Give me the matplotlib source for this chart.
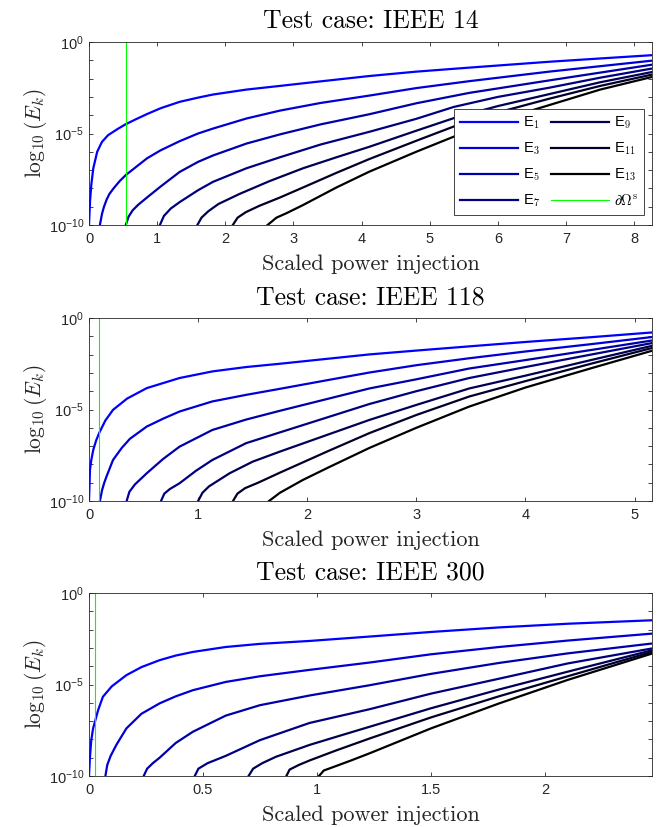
import numpy as np
import matplotlib
matplotlib.use('Agg')
from matplotlib import pyplot as plt

# valori (x = putere scalata, y = log10(E_k))
labels = ['E$_{1}$', 'E$_{3}$', 'E$_{5}$', 'E$_{7}$', 'E$_{9}$', 'E$_{11}$', 'E$_{13}$']
titluri = ['Test case: IEEE 14', 'Test case: IEEE 118', 'Test case: IEEE 300']
xmax = [8.26, 5.16, 2.47]
frontiera = [0.54, 0.095, 0.028]   # linia verde dOmega^s
xticks = [[0, 1, 2, 3, 4, 5, 6, 7, 8], [0, 1, 2, 3, 4, 5], [0, 0.5, 1, 1.5, 2]]
xticklabels = [['0', '1', '2', '3', '4', '5', '6', '7', '8'],
               ['0', '1', '2', '3', '4', '5'],
               ['0', '0.5', '1', '1.5', '2']]

# IEEE 14
ieee14_x = [
    [0, 0.015, 0.034, 0.063, 0.12, 0.19, 0.28, 0.43, 0.54, 0.70, 0.85, 1.05, 1.33, 1.6, 1.82,
     2.31, 2.80, 3.4, 4.11, 4.8, 5.58, 6.75, 7.5, 8.26],
    [0.16, 0.19, 0.22, 0.26, 0.30, 0.36, 0.45, 0.54, 0.70, 0.85, 1.05, 1.33, 1.6, 1.82, 2.31,
     2.80, 3.4, 4.11, 4.8, 5.58, 6.75, 8.26],
    [0.54, 0.58, 0.64, 0.72, 0.85, 1.05, 1.33, 1.6, 1.82, 2.31, 2.80, 3.4, 4.11, 4.8, 5.58,
     6.75, 8.26],
    [1.04, 1.1, 1.2, 1.33, 1.6, 1.82, 2.31, 2.80, 3.4, 4.11, 4.8, 5.35, 6.0, 6.75, 7.5, 8.26],
    [1.59, 1.65, 1.75, 1.9, 2.21, 2.65, 3.14, 3.63, 4.11, 4.8, 5.4, 6.0, 6.75, 7.5, 8.26],
    [2.11, 2.18, 2.3, 2.5, 2.8, 3.14, 3.63, 4.11, 4.8, 5.4, 6.0, 6.75, 7.5, 8.26],
    [2.62, 2.75, 2.9, 3.14, 3.63, 4.11, 4.8, 5.4, 6.0, 6.75, 7.5, 8.26],
]
ieee14_logE = [
    [-10, -8.7, -7.8, -6.9, -6.0, -5.46, -5.09, -4.73, -4.49, -4.2, -3.94, -3.62, -3.27, -3.04,
     -2.87, -2.60, -2.40, -2.15, -1.86, -1.62, -1.40, -1.08, -0.9, -0.72],
    [-10, -9.4, -9.0, -8.6, -8.3, -8.0, -7.6, -7.27, -6.8, -6.36, -5.92, -5.42, -5.0, -4.73,
     -4.18, -3.75, -3.33, -2.93, -2.52, -2.14, -1.62, -1.02],
    [-10, -9.55, -9.2, -8.9, -8.5, -7.9, -7.1, -6.55, -6.2, -5.55, -5.05, -4.5, -3.95, -3.35,
     -2.78, -2.1, -1.24],
    [-10, -9.5, -9.1, -8.75, -8.1, -7.64, -6.9, -6.3, -5.6, -4.91, -4.2, -3.55, -3.0, -2.5,
     -1.95, -1.45],
    [-10, -9.6, -9.25, -8.85, -8.3, -7.6, -6.9, -6.3, -5.73, -4.85, -4.1, -3.5, -2.85, -2.2, -1.64],
    [-10, -9.6, -9.3, -8.95, -8.5, -7.95, -7.15, -6.4, -5.4, -4.55, -3.85, -3.1, -2.4, -1.78],
    [-10, -9.6, -9.35, -8.91, -7.95, -7.09, -6.0, -5.1, -4.3, -3.45, -2.6, -1.91],
]

# IEEE 118
ieee118_x = [
    [0, 0.009, 0.02, 0.039, 0.065, 0.095, 0.15, 0.22, 0.35, 0.53, 0.83, 1.13, 1.44, 1.75, 2.2,
     2.57, 3.0, 3.485, 4.0, 4.6, 5.16],
    [0.10, 0.12, 0.14, 0.16, 0.22, 0.3, 0.375, 0.53, 0.68, 0.83, 1.13, 1.44, 1.75, 2.2, 2.57,
     3.0, 3.485, 4.0, 4.6, 5.16],
    [0.345, 0.37, 0.42, 0.53, 0.68, 0.83, 1.13, 1.44, 1.75, 2.2, 2.57, 3.0, 3.485, 4.0, 4.6, 5.16],
    [0.66, 0.69, 0.74, 0.83, 0.98, 1.13, 1.44, 1.75, 2.2, 2.57, 3.0, 3.485, 4.0, 4.6, 5.16],
    [1.0, 1.04, 1.1, 1.29, 1.5, 1.75, 2.2, 2.57, 3.0, 3.485, 4.0, 4.6, 5.16],
    [1.32, 1.36, 1.43, 1.55, 1.75, 2.2, 2.57, 3.0, 3.485, 4.0, 4.6, 5.16],
    [1.65, 1.75, 1.96, 2.2, 2.57, 3.0, 3.485, 4.0, 4.6, 5.16],
]
ieee118_logE = [
    [-10, -8.3, -7.8, -7.21, -6.7, -6.26, -5.6, -5.02, -4.4, -3.83, -3.28, -2.92, -2.68, -2.50,
     -2.22, -1.99, -1.78, -1.55, -1.31, -1.05, -0.79],
    [-10, -9.4, -9.0, -8.67, -7.76, -7.1, -6.6, -5.93, -5.5, -5.11, -4.56, -4.2, -3.87, -3.38,
     -2.98, -2.58, -2.2, -1.83, -1.43, -1.04],
    [-10, -9.5, -9.1, -8.48, -7.7, -7.03, -6.12, -5.55, -5.07, -4.4, -3.85, -3.35, -2.76, -2.3,
     -1.75, -1.23],
    [-10, -9.6, -9.35, -9.03, -8.35, -7.76, -6.84, -6.25, -5.4, -4.7, -4.0, -3.28, -2.68, -2.0, -1.37],
    [-10, -9.55, -9.2, -8.48, -7.85, -7.30, -6.35, -5.57, -4.75, -3.85, -3.15, -2.3, -1.52],
    [-10, -9.6, -9.3, -9.0, -8.45, -7.25, -6.29, -5.3, -4.29, -3.45, -2.5, -1.64],
    [-10, -9.55, -8.85, -8.15, -7.1, -6.0, -4.84, -3.8, -2.75, -1.79],
]

# IEEE 300
ieee300_x = [
    [0, 0.004, 0.01, 0.018, 0.028, 0.04, 0.061, 0.1, 0.164, 0.23, 0.31, 0.38, 0.456, 0.6, 0.75,
     0.968, 1.231, 1.5, 1.8, 2.1, 2.47],
    [0.072, 0.08, 0.095, 0.12, 0.164, 0.23, 0.31, 0.38, 0.456, 0.6, 0.75, 0.968, 1.231, 1.5,
     1.8, 2.1, 2.47],
    [0.24, 0.255, 0.28, 0.31, 0.38, 0.456, 0.6, 0.75, 0.968, 1.231, 1.5, 1.8, 2.1, 2.47],
    [0.464, 0.48, 0.52, 0.6, 0.75, 0.968, 1.231, 1.5, 1.8, 2.1, 2.47],
    [0.70, 0.72, 0.76, 0.82, 0.968, 1.1, 1.231, 1.5, 1.8, 2.1, 2.47],
    [0.866, 0.88, 0.92, 0.968, 1.085, 1.231, 1.5, 1.8, 2.1, 2.47],
    [1.009, 1.03, 1.085, 1.15, 1.231, 1.5, 1.8, 2.1, 2.47],
]
ieee300_logE = [
    [-10, -9.0, -8.04, -7.4, -6.95, -6.4, -5.67, -5.1, -4.49, -4.05, -3.67, -3.42, -3.22, -2.95,
     -2.78, -2.62, -2.38, -2.13, -1.88, -1.68, -1.49],
    [-10, -9.4, -8.9, -8.3, -7.4, -6.6, -6.03, -5.65, -5.31, -4.86, -4.55, -4.2, -3.8, -3.35,
     -2.95, -2.6, -2.22],
    [-10, -9.6, -9.3, -9.0, -8.2, -7.58, -6.7, -6.13, -5.6, -5.04, -4.42, -3.82, -3.3, -2.76],
    [-10, -9.6, -9.3, -8.9, -8.04, -7.1, -6.35, -5.5, -4.68, -3.85, -3.03],
    [-10, -9.6, -9.3, -8.95, -8.3, -7.8, -7.31, -6.3, -5.27, -4.3, -3.13],
    [-10, -9.65, -9.4, -9.15, -8.6, -7.95, -6.8, -5.64, -4.55, -3.22],
    [-10, -9.7, -9.45, -9.15, -8.76, -7.4, -6.03, -4.75, -3.31],
]

toate_x = [ieee14_x, ieee118_x, ieee300_x]
toate_y = [ieee14_logE, ieee118_logE, ieee300_logE]

plt.rcParams['mathtext.fontset'] = 'cm'
plt.rcParams['axes.formatter.use_mathtext'] = True
gri = (0.15, 0.15, 0.15)
font_tick = 'Liberation Sans'

fig = plt.figure(figsize=(6.64, 8.27), dpi=100)
bottoms = [1 - 225/827, 1 - 501/827, 1 - 776/827]
culori = [(0, 0, 1 - i/6) for i in range(7)]

for p in range(3):
    ax = fig.add_axes([89/664, bottoms[p], 563/664, 183/827])
    for i in range(7):
        ax.plot(toate_x[p][i], 10.0 ** np.array(toate_y[p][i]), color=culori[i],
                lw=1.6, label=labels[i], solid_joinstyle='round')
    ax.plot([frontiera[p], frontiera[p]], [1e-10, 1], color=(0, 1, 0), lw=0.8,
            label=r'$\partial\Omega^{\rm s}$')
    ax.set_yscale('log')
    ax.set_ylim(1e-10, 1)
    ax.set_xlim(0, xmax[p])
    ax.set_yticks([1e-10, 1e-5, 1])
    ax.set_yticklabels([r'$\mathregular{10^{-10}}$', r'$\mathregular{10^{-5}}$', r'$\mathregular{10^{0}}$'])
    ax.set_yticks([10.0 ** k for k in range(-9, 0) if k != -5], minor=True)
    ax.yaxis.set_minor_formatter(matplotlib.ticker.NullFormatter())
    ax.set_xticks(xticks[p])
    ax.set_xticklabels(xticklabels[p])
    ax.tick_params(which='both', direction='in', top=True, right=True, length=3.2,
                   width=0.6, color=gri, labelcolor=gri, labelsize=10.5)
    ax.tick_params(axis='x', pad=5)
    for lab in ax.get_xticklabels() + ax.get_yticklabels():
        lab.set_fontfamily(font_tick)
    for s in ax.spines.values():
        s.set_color(gri)
        s.set_linewidth(0.6)
    ax.set_title(titluri[p], fontfamily='cmr10', fontsize=18.5, pad=10, color='k')
    ax.set_xlabel('Scaled power injection', fontfamily='cmr10', fontsize=16,
                  labelpad=6, color=gri)
    ax.set_ylabel(r'$\log_{10}(E_k)$', fontsize=15.5, labelpad=0, color=gri)

    if p == 0:
        h, l = ax.get_legend_handles_labels()
        leg = ax.legend(h, l, ncol=2, loc='lower right', bbox_to_anchor=(0.986, 0.055),
                        borderaxespad=0,
                        prop={'family': font_tick, 'size': 10.5}, handlelength=4.0,
                        columnspacing=0.7, handletextpad=0.35, labelspacing=0.65,
                        borderpad=0.4, fancybox=False, framealpha=1, edgecolor=gri)
        leg.get_frame().set_linewidth(0.6)

fig.savefig('out.png', dpi=100)
